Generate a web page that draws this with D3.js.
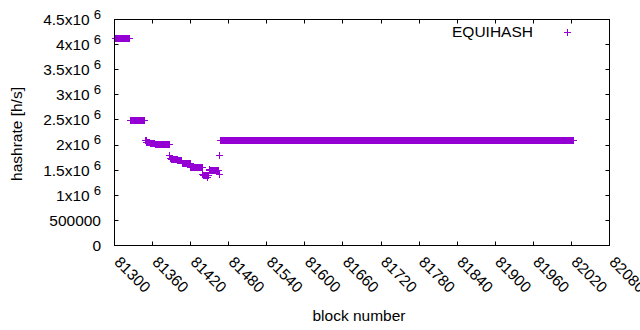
<!DOCTYPE html>
<html>
<head>
<meta charset="utf-8">
<script src="https://cdn.jsdelivr.net/npm/d3@7"></script>
<style>
  body { margin: 0; background: #fff; }
  text { font-family: "Liberation Sans", Arial, sans-serif; font-size: 15.5px; fill: #000; }
</style>
</head>
<body>
<svg id="chartSVG" width="640" height="330"></svg>
<script>
/* ---------- Data (runs of consecutive blocks with the same hashrate) ---------- */
const runStart = [81302, 81325, 81349, 81351, 81356, 81364, 81387, 81388, 81390, 81400, 81407,
                  81420, 81439, 81440, 81447, 81448, 81449, 81450, 81465, 81466, 81467];
const runEnd   = [81324, 81347, 81350, 81355, 81363, 81386, 81387, 81389, 81399, 81406, 81419,
                  81438, 81439, 81446, 81447, 81448, 81449, 81464, 81465, 81466, 82023];
const runValue = [4.12e6, 2.48e6, 2.09e6, 2.06e6, 2.04e6, 2.02e6, 1.80e6, 1.74e6, 1.71e6, 1.69e6, 1.64e6,
                  1.56e6, 1.42e6, 1.385e6, 1.35e6, 1.40e6, 1.52e6, 1.495e6, 1.405e6, 1.80e6, 2.095e6];

const xTicks = [81300, 81360, 81420, 81480, 81540, 81600, 81660, 81720, 81780, 81840, 81900, 81960, 82020, 82080];
const yTicks = [0, 500000, 1e6, 1.5e6, 2e6, 2.5e6, 3e6, 3.5e6, 4e6, 4.5e6];
const seriesName = "EQUIHASH";

// one point per block
var points = [];
for (let i = 0; i < runStart.length; i++) {
    for (let b = runStart[i]; b <= runEnd[i]; b++) {
        points.push({block: b, rate: runValue[i]});
    }
}

/* ---------- Layout ---------- */
const plotLeft = 114.5, plotRight = 609.5, plotTop = 19.5, plotBottom = 245.5;
const tickLen = 4;
const colour = "#9400d3";
const plusPath = "M-3.5,0H3.5M0,-3.5V3.5";

var svg = d3.select("#chartSVG");

var xScale = d3.scaleLinear().domain([81300, 82080]).range([plotLeft, plotRight]);
var yScale = d3.scaleLinear().domain([0, 4.5e6]).range([plotBottom, plotTop]);

/* ---------- Ticks (gnuplot style: inward, mirrored) ---------- */
var ticks = svg.append("g").attr("stroke", "#000").attr("stroke-width", 1);
xTicks.forEach(t => {
    var x = Math.round(xScale(t) - 0.5) + 0.5;
    ticks.append("line").attr("x1", x).attr("x2", x).attr("y1", plotBottom).attr("y2", plotBottom - tickLen);
    ticks.append("line").attr("x1", x).attr("x2", x).attr("y1", plotTop).attr("y2", plotTop + tickLen);
});
yTicks.forEach(t => {
    var y = Math.round(yScale(t) - 0.5) + 0.5;
    ticks.append("line").attr("x1", plotLeft).attr("x2", plotLeft + tickLen).attr("y1", y).attr("y2", y);
    ticks.append("line").attr("x1", plotRight).attr("x2", plotRight - tickLen).attr("y1", y).attr("y2", y);
});

/* ---------- Tick labels ---------- */
var yLabels = svg.append("g");
yTicks.forEach(t => {
    var label = yLabels.append("text")
        .attr("x", 101)
        .attr("y", yScale(t))
        .attr("dy", "0.35em")
        .attr("text-anchor", "end");
    if (t < 1e6) {
        label.text(t);
    } else {
        label.append("tspan").text(d3.format("~g")(t / 1e6) + "x10");
        label.append("tspan").attr("dx", 4).attr("dy", -6).attr("font-size", "0.85em").text("6");
    }
});

var xLabels = svg.append("g");
xTicks.forEach(t => {
    xLabels.append("text")
        .attr("transform", "translate(" + (xScale(t) - 1) + "," + 263 + ") rotate(45)")
        .text(t);
});

/* ---------- Axis titles ---------- */
svg.append("text")
    .attr("x", 359)
    .attr("y", 321)
    .attr("text-anchor", "middle")
    .text("block number");
svg.append("text")
    .attr("text-anchor", "middle")
    .attr("transform", "translate(" + 22 + "," + 134 + ") rotate(-90)")
    .text("hashrate [h/s]");

/* ---------- Points ---------- */
svg.append("g")
    .attr("stroke", colour)
    .attr("stroke-width", 1)
    .attr("fill", "none")
    .attr("shape-rendering", "crispEdges")
    .selectAll("path")
    .data(points)
    .enter().append("path")
        .attr("d", plusPath)
        .attr("transform", d => "translate(" + xScale(d.block) + "," + yScale(d.rate) + ")");

/* ---------- Border ---------- */
svg.append("rect")
    .attr("x", plotLeft).attr("y", plotTop)
    .attr("width", plotRight - plotLeft).attr("height", plotBottom - plotTop)
    .attr("fill", "none").attr("stroke", "#000").attr("stroke-width", 1);

/* ---------- Legend ---------- */
svg.append("text")
    .attr("x", 533)
    .attr("y", 37)
    .attr("text-anchor", "end")
    .text(seriesName);
svg.append("path")
    .attr("d", plusPath)
    .attr("stroke", colour)
    .attr("transform", "translate(567.5,32.5)");
</script>
</body>
</html>
